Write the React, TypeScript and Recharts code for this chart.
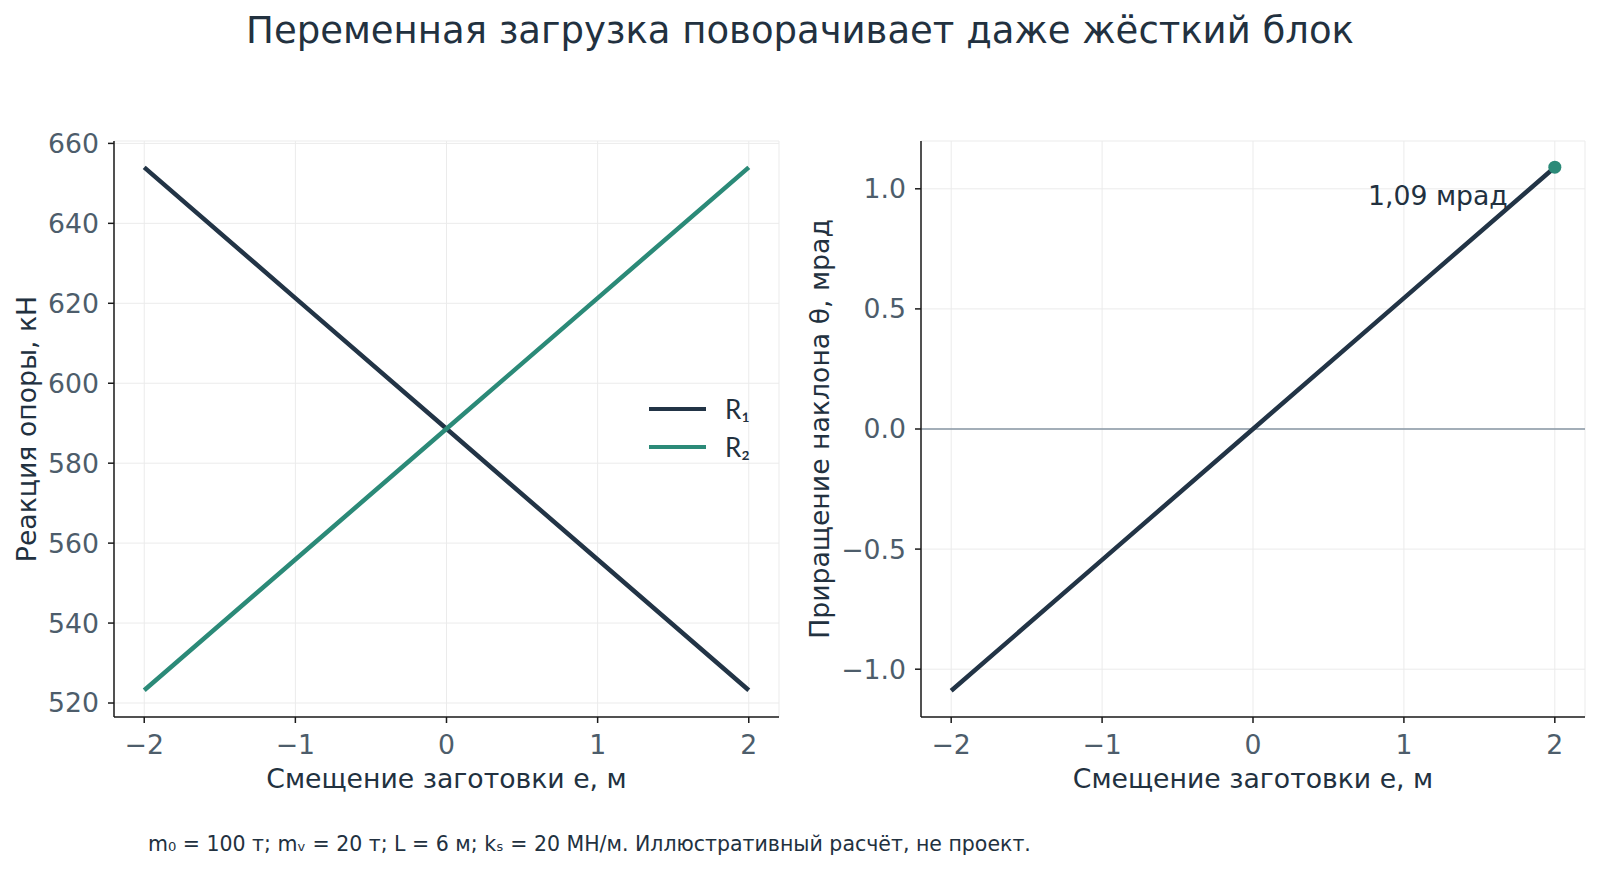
import React from "react";
import {
  LineChart,
  Line,
  XAxis,
  YAxis,
  CartesianGrid,
  Legend,
  ReferenceLine,
  ReferenceDot,
  Label,
} from "recharts";

// Смещение заготовки e, м
const offsets = [-2, -1, 0, 1, 2];
// Реакции опор, кН
const r1Values = [654.0, 621.3, 588.6, 555.9, 523.2];
const r2Values = [523.2, 555.9, 588.6, 621.3, 654.0];
// Приращение наклона, мрад
const thetaValues = [-1.09, -0.545, 0, 0.545, 1.09];

const xTicks = [-2, -1, 0, 1, 2];
const reactionTicks = [520, 540, 560, 580, 600, 620, 640, 660];
const thetaTicks = [-1.0, -0.5, 0.0, 0.5, 1.0];

const NAVY = "#223446";
const GREEN = "#2b8a78";
const TICK = "#4d5d6b";
const TEXT = "#22313f";
const FONT = "'DejaVu Sans', sans-serif";
const FS = 26.7;

const reactionData = offsets.map((e, i) => ({ e, r1: r1Values[i], r2: r2Values[i] }));
const thetaData = offsets.map((e, i) => ({ e, theta: thetaValues[i] }));

const minus = (s: string) => s.replace("-", "\u2212");

const tickStyle = { fill: TICK, fontSize: FS, fontFamily: FONT };

const xLabel = (text: string) => ({ viewBox }: any) => (
  <text
    x={viewBox.x + viewBox.width / 2}
    y={788}
    textAnchor="middle"
    fill={TEXT}
    fontSize={FS}
    fontFamily={FONT}
  >
    {text}
  </text>
);

const yLabel = (text: string, cx: number) => () => (
  <text
    x={cx}
    y={429}
    transform={`rotate(-90 ${cx} 429)`}
    textAnchor="middle"
    dominantBaseline="central"
    fill={TEXT}
    fontSize={FS}
    fontFamily={FONT}
  >
    {text}
  </text>
);

const legendContent = ({ payload }: any) => (
  <div>
    {(payload || []).map((p: any) => (
      <div
        key={p.value}
        style={{ display: "flex", alignItems: "center", height: 38 }}
      >
        <div style={{ width: 57, height: 4.5, background: p.color, marginRight: 19 }} />
        <span style={{ color: TEXT, fontSize: 26, fontFamily: "Lato, sans-serif" }}>
          {p.value}
        </span>
      </div>
    ))}
  </div>
);

export default function App() {
  return (
    <div
      style={{
        position: "absolute",
        left: 0,
        top: 0,
        width: 1600,
        height: 870,
        background: "#fff",
        fontFamily: FONT,
      }}
    >
      <div
        style={{
          position: "absolute",
          top: 9,
          left: 0,
          width: 1600,
          textAlign: "center",
          fontSize: 37,
          color: TEXT,
        }}
      >
        Переменная загрузка поворачивает даже жёсткий блок
      </div>

      <div style={{ position: "absolute", left: 0, top: 0 }}>
        <LineChart
          width={800}
          height={870}
          data={reactionData}
          margin={{ top: 141, right: 21, bottom: 103, left: 0 }}
        >
          <CartesianGrid stroke="#ebebeb" strokeWidth={1} />
          <XAxis
            dataKey="e"
            type="number"
            domain={[-2.2, 2.2]}
            ticks={xTicks}
            tickFormatter={(v) => minus(String(v))}
            tick={tickStyle}
            tickSize={6}
            tickMargin={12}
            height={50}
            stroke="#1a1a1a"
            strokeWidth={1.5}
            allowDataOverflow
          >
            <Label content={xLabel("Смещение заготовки e, м")} />
          </XAxis>
          <YAxis
            type="number"
            domain={[516.5, 660.6]}
            ticks={reactionTicks}
            tick={tickStyle}
            tickSize={6}
            tickMargin={9}
            width={114}
            stroke="#1a1a1a"
            strokeWidth={1.5}
            allowDataOverflow
          >
            <Label content={yLabel("Реакция опоры, кН", 26)} />
          </YAxis>
          <Legend
            layout="horizontal"
            verticalAlign="middle"
            align="center"
            content={legendContent}
            wrapperStyle={{ position: "absolute", left: 649, top: 390, width: 150 }}
          />
          <Line
            dataKey="r1"
            name="R₁"
            stroke={NAVY}
            strokeWidth={4.5}
            dot={false}
            isAnimationActive={false}
          />
          <Line
            dataKey="r2"
            name="R₂"
            stroke={GREEN}
            strokeWidth={4.5}
            dot={false}
            isAnimationActive={false}
          />
        </LineChart>
      </div>

      <div style={{ position: "absolute", left: 790, top: 0 }}>
        <LineChart
          width={810}
          height={870}
          data={thetaData}
          margin={{ top: 141, right: 15, bottom: 103, left: 0 }}
        >
          <CartesianGrid stroke="#ebebeb" strokeWidth={1} />
          <XAxis
            dataKey="e"
            type="number"
            domain={[-2.2, 2.2]}
            ticks={xTicks}
            tickFormatter={(v) => minus(String(v))}
            tick={tickStyle}
            tickSize={6}
            tickMargin={12}
            height={50}
            stroke="#1a1a1a"
            strokeWidth={1.5}
            allowDataOverflow
          >
            <Label content={xLabel("Смещение заготовки e, м")} />
          </XAxis>
          <YAxis
            type="number"
            domain={[-1.199, 1.199]}
            ticks={thetaTicks}
            tickFormatter={(v) => minus(Number(v).toFixed(1))}
            tick={tickStyle}
            tickSize={6}
            tickMargin={9}
            width={131}
            stroke="#1a1a1a"
            strokeWidth={1.5}
            allowDataOverflow
          >
            <Label content={yLabel("Приращение наклона θ, мрад", 29)} />
          </YAxis>
          <ReferenceLine y={0} stroke="#8796a3" strokeWidth={1.4} />
          <Line
            dataKey="theta"
            stroke={NAVY}
            strokeWidth={4.5}
            dot={false}
            isAnimationActive={false}
          />
          <ReferenceDot
            x={offsets[offsets.length - 1]}
            y={thetaValues[thetaValues.length - 1]}
            r={6.5}
            fill={GREEN}
            stroke="none"
          >
            <Label
              content={({ viewBox }: any) => (
                <text
                  x={viewBox.x + viewBox.width / 2 - 47}
                  y={viewBox.y + viewBox.height / 2 + 38}
                  textAnchor="end"
                  fill={TEXT}
                  fontSize={FS}
                  fontFamily={FONT}
                >
                  1,09 мрад
                </text>
              )}
            />
          </ReferenceDot>
        </LineChart>
      </div>

      <div
        style={{
          position: "absolute",
          left: 148,
          top: 832,
          fontSize: 20.5,
          color: TEXT,
        }}
      >
        m₀ = 100 т; mᵥ = 20 т; L = 6 м; kₛ = 20 МН/м. Иллюстративный расчёт, не проект.
      </div>
    </div>
  );
}
